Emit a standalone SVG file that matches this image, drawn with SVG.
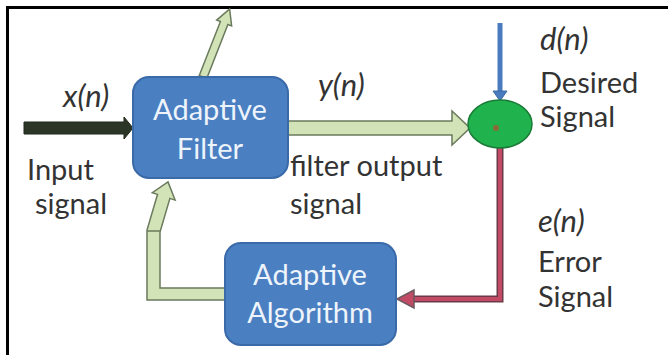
<svg xmlns="http://www.w3.org/2000/svg" width="668" height="355" viewBox="0 0 668 355">
  <style>
    .lbl { font-family: Lato, "Liberation Sans", sans-serif; font-size: 29px; fill: #333333; }
    .it { font-style: italic; font-size: 31px; }
    .box { fill: #4a7fc2; stroke: #3a6aa8; stroke-width: 2; }
    .boxtxt { font-family: Lato, "Liberation Sans", sans-serif; font-size: 29px; fill: #eef4fb; text-anchor: middle; }
    .lg { fill: #d3e3b8; stroke: #6a7a5c; stroke-width: 1.5; stroke-linejoin: miter; }
  </style>
  <rect width="668" height="355" fill="#ffffff"/>
  <!-- frame: top and left rules -->
  <path d="M7.5 355 V7.5 H668" fill="none" stroke="#000000" stroke-width="3"/>

  <g id="connectors">
    <!-- input x(n) -->
    <polygon points="24,122 124,122 124,117 133,128 124,139 124,134 24,134" fill="#2c3626" stroke="#1e261a" stroke-width="1"/>
    <!-- filter output y(n) -->
    <polygon class="lg" points="288,121 452,121 452,111 470,128 452,145 452,135 288,135"/>
    <!-- weight output from filter top -->
    <g transform="translate(203,77) rotate(21.4)">
      <polygon class="lg" points="-4,0 -4,-58 -8,-58 0,-73 8,-58 4,-58 4,0"/>
    </g>
    <!-- weight update feedback -->
    <polygon class="lg" points="225,300 147,300 147,230 157.5,194.4 152.3,192.7 168,182 175.1,200.1 169.9,198.4 160,232 160,288 225,288"/>
    <line x1="147" y1="231" x2="160" y2="231" stroke="#6a7a5c" stroke-width="1.5"/>
    <!-- desired d(n) -->
    <line x1="500" y1="23" x2="500" y2="92" stroke="#4a7bbf" stroke-width="5"/>
    <polygon points="493,91 507,91 500,101" fill="#4a7bbf" stroke="#3d6aa6" stroke-width="1"/>
    <!-- error e(n) -->
    <path d="M500 146 V299 H412" fill="none" stroke="#6b3a48" stroke-width="7"/>
    <path d="M500 146 V299 H412" fill="none" stroke="#c24a64" stroke-width="4"/>
    <polygon points="397,299 414,290 414,308" fill="#c24a64" stroke="#6b5a60" stroke-width="1.5"/>
  </g>

  <g id="adaptive-filter">
    <rect class="box" x="133" y="77" width="155" height="101" rx="16"/>
    <text class="boxtxt" x="210" y="120">Adaptive</text>
    <text class="boxtxt" x="210" y="159">Filter</text>
  </g>

  <g id="adaptive-algorithm">
    <rect class="box" x="225" y="243" width="171" height="102" rx="16"/>
    <text class="boxtxt" x="310" y="285">Adaptive</text>
    <text class="boxtxt" x="310" y="323">Algorithm</text>
  </g>

  <g id="summer">
    <ellipse cx="500" cy="124" rx="32" ry="24" fill="#20b24c" stroke="#1a7a38" stroke-width="1.5"/>
    <circle cx="496" cy="128" r="3" fill="#8a6a3a"/>
  </g>

  <g id="labels">
    <text class="lbl it" x="63" y="107">x(n)</text>
    <text class="lbl" x="27" y="180">Input</text>
    <text class="lbl" x="35" y="214">signal</text>
    <text class="lbl it" x="318" y="96">y(n)</text>
    <text class="lbl" x="290" y="176">filter output</text>
    <text class="lbl" x="290" y="214">signal</text>
    <text class="lbl it" x="540" y="50">d(n)</text>
    <text class="lbl" x="540" y="93">Desired</text>
    <text class="lbl" x="540" y="127">Signal</text>
    <text class="lbl it" x="538" y="232">e(n)</text>
    <text class="lbl" x="538" y="272">Error</text>
    <text class="lbl" x="538" y="307">Signal</text>
  </g>
</svg>
